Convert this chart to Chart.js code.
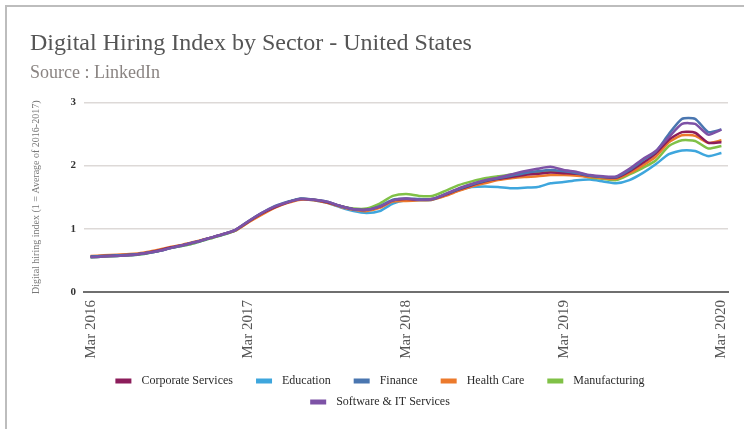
<!DOCTYPE html>
<html>
<head>
<meta charset="utf-8">
<script src="https://cdn.jsdelivr.net/npm/chart.js@4"></script>
<style>
  body { margin: 0; background: #fff; }
  #frame { position: absolute; left: 5px; top: 5px; width: 900px; height: 600px; border-left: 2px solid #bdbdbd; border-top: 2px solid #bdbdbd; }
  #chart { position: absolute; left: 0; top: 0; }
</style>
</head>
<body>
<div id="frame"></div>
<canvas id="chart" width="744" height="429"></canvas>
<script>
// Monthly points, Mar 2016 .. Mar 2020
const months = [
    'Mar 2016', 'Apr 2016', 'May 2016', 'Jun 2016', 'Jul 2016', 'Aug 2016', 'Sep 2016', 'Oct 2016', 'Nov 2016', 'Dec 2016', 'Jan 2017', 'Feb 2017',
    'Mar 2017', 'Apr 2017', 'May 2017', 'Jun 2017', 'Jul 2017', 'Aug 2017', 'Sep 2017', 'Oct 2017', 'Nov 2017', 'Dec 2017', 'Jan 2018', 'Feb 2018',
    'Mar 2018', 'Apr 2018', 'May 2018', 'Jun 2018', 'Jul 2018', 'Aug 2018', 'Sep 2018', 'Oct 2018', 'Nov 2018', 'Dec 2018', 'Jan 2019', 'Feb 2019',
    'Mar 2019', 'Apr 2019', 'May 2019', 'Jun 2019', 'Jul 2019', 'Aug 2019', 'Sep 2019', 'Oct 2019', 'Nov 2019', 'Dec 2019', 'Jan 2020', 'Feb 2020',
    'Mar 2020'
];

const corporateServices = [0.56, 0.57, 0.58, 0.59, 0.61, 0.65, 0.70, 0.74, 0.79, 0.85, 0.91, 0.98,
    1.11, 1.24, 1.34, 1.42, 1.47, 1.46, 1.42, 1.36, 1.31, 1.30, 1.35, 1.45,
    1.47, 1.46, 1.47, 1.54, 1.62, 1.69, 1.75, 1.79, 1.82, 1.85, 1.87, 1.89,
    1.88, 1.87, 1.84, 1.82, 1.81, 1.91, 2.04, 2.19, 2.41, 2.53, 2.52, 2.36, 2.37];
const education = [0.55, 0.56, 0.57, 0.58, 0.60, 0.64, 0.69, 0.73, 0.78, 0.84, 0.90, 0.97,
    1.11, 1.24, 1.34, 1.42, 1.47, 1.45, 1.41, 1.34, 1.28, 1.25, 1.28, 1.40,
    1.45, 1.45, 1.46, 1.53, 1.61, 1.66, 1.67, 1.66, 1.64, 1.65, 1.66, 1.72,
    1.74, 1.77, 1.78, 1.75, 1.72, 1.77, 1.88, 2.02, 2.18, 2.24, 2.23, 2.15, 2.20];
const finance = [0.56, 0.57, 0.58, 0.59, 0.61, 0.64, 0.69, 0.74, 0.79, 0.85, 0.91, 0.98,
    1.12, 1.25, 1.36, 1.43, 1.48, 1.46, 1.43, 1.36, 1.31, 1.30, 1.36, 1.46,
    1.48, 1.47, 1.47, 1.55, 1.63, 1.70, 1.76, 1.80, 1.84, 1.88, 1.91, 1.93,
    1.91, 1.88, 1.84, 1.82, 1.82, 1.93, 2.08, 2.22, 2.50, 2.74, 2.74, 2.53, 2.57];
const healthCare = [0.57, 0.58, 0.59, 0.60, 0.62, 0.66, 0.71, 0.75, 0.80, 0.85, 0.91, 0.97,
    1.10, 1.22, 1.33, 1.41, 1.46, 1.45, 1.41, 1.35, 1.30, 1.28, 1.33, 1.43,
    1.44, 1.45, 1.46, 1.52, 1.60, 1.67, 1.72, 1.77, 1.80, 1.82, 1.83, 1.85,
    1.85, 1.84, 1.82, 1.80, 1.79, 1.88, 2.00, 2.14, 2.37, 2.48, 2.47, 2.36, 2.40];
const manufacturing = [0.55, 0.56, 0.57, 0.58, 0.60, 0.64, 0.69, 0.73, 0.78, 0.84, 0.90, 0.97,
    1.11, 1.24, 1.34, 1.42, 1.47, 1.46, 1.42, 1.36, 1.32, 1.32, 1.40, 1.52,
    1.55, 1.52, 1.52, 1.60, 1.69, 1.75, 1.80, 1.83, 1.86, 1.88, 1.90, 1.91,
    1.89, 1.86, 1.81, 1.79, 1.77, 1.86, 1.96, 2.08, 2.31, 2.40, 2.39, 2.27, 2.31];
const softwareIT = [0.55, 0.56, 0.57, 0.58, 0.61, 0.64, 0.69, 0.74, 0.79, 0.85, 0.91, 0.98,
    1.12, 1.25, 1.35, 1.42, 1.47, 1.46, 1.43, 1.36, 1.31, 1.30, 1.35, 1.45,
    1.48, 1.46, 1.47, 1.55, 1.64, 1.71, 1.77, 1.81, 1.86, 1.91, 1.95, 1.98,
    1.93, 1.90, 1.85, 1.83, 1.83, 1.95, 2.10, 2.23, 2.45, 2.66, 2.66, 2.49, 2.57];

const yTicks = [0, 1, 2, 3];

const serif = "'Liberation Serif', 'Times New Roman', serif";
const axisGrey = '#6f6f6f';

const series = [
    { label: 'Corporate Services', data: corporateServices, color: '#8c1d5b', order: 2 },
    { label: 'Education', data: education, color: '#3ea6dd', order: 5 },
    { label: 'Finance', data: finance, color: '#4a76b0', order: 1 },
    { label: 'Health Care', data: healthCare, color: '#ec7a2c', order: 3 },
    { label: 'Manufacturing', data: manufacturing, color: '#80c147', order: 4 },
    { label: 'Software & IT Services', data: softwareIT, color: '#7d52a6', order: 0 }
];

// legend drawn by hand: two centered rows, wider gaps than the built-in one allows
const legendRows = [[0, 1, 2, 3, 4], [5]];
const sectorLegend = {
    id: 'sectorLegend',
    afterDraw(chart) {
        const ctx = chart.ctx;
        const boxW = 16, boxH = 5, textGap = 10, itemGap = 23;
        const center = chart.width / 2 + 8;
        const firstRowY = chart.chartArea.bottom + 89;
        ctx.save();
        ctx.font = '12px ' + serif;
        ctx.textBaseline = 'middle';
        legendRows.forEach((row, r) => {
            const widths = row.map(i => boxW + textGap + ctx.measureText(chart.data.datasets[i].label).width);
            const total = widths.reduce((a, b) => a + b, 0) + itemGap * (row.length - 1);
            let x = center - total / 2;
            const y = firstRowY + r * 21;
            row.forEach((i, k) => {
                const ds = chart.data.datasets[i];
                ctx.fillStyle = ds.borderColor;
                ctx.fillRect(x, y - boxH / 2, boxW, boxH);
                ctx.fillStyle = '#2b2b2b';
                ctx.fillText(ds.label, x + boxW + textGap, y);
                x += widths[k] + itemGap;
            });
        });
        ctx.restore();
    }
};

new Chart(document.getElementById('chart'), {
    type: 'line',
    data: {
        labels: months,
        datasets: series.map(s => ({
            label: s.label,
            data: s.data,
            borderColor: s.color,
            backgroundColor: s.color,
            borderWidth: 2.5,
            pointRadius: 0,
            tension: 0.2,
            order: s.order
        }))
    },
    options: {
        responsive: false,
        animation: false,
        layout: { padding: { left: 30, right: 16, top: 0, bottom: 64 } },
        plugins: {
            title: {
                display: true,
                text: 'Digital Hiring Index by Sector - United States',
                align: 'start',
                color: '#555',
                font: { family: serif, size: 24, weight: 'normal' },
                padding: { top: 29, bottom: 5 }
            },
            subtitle: {
                display: true,
                text: 'Source : LinkedIn',
                align: 'start',
                color: '#8a8482',
                font: { family: serif, size: 18, weight: 'normal' },
                padding: { top: 0, bottom: 18 }
            },
            legend: { display: false },
            tooltip: { enabled: false }
        },
        scales: {
            x: {
                offset: true,
                grid: { display: false },
                border: { display: true, color: axisGrey, width: 2 },
                ticks: {
                    autoSkip: false,
                    maxRotation: 90,
                    minRotation: 90,
                    padding: 0,
                    color: '#555',
                    font: { family: serif, size: 15 },
                    callback: (v, i) => (i % 12 === 0 ? months[i] : '')
                },
                afterFit: s => { s.height = 73; }
            },
            y: {
                min: 0,
                max: 3,
                afterBuildTicks: s => { s.ticks = yTicks.map(v => ({ value: v })); },
                grid: {
                    drawTicks: false,
                    color: c => (c.tick && c.tick.value === 0 ? axisGrey : '#ddd9d7'),
                    lineWidth: c => (c.tick && c.tick.value === 0 ? 2 : 1.5)
                },
                border: { display: false },
                ticks: {
                    padding: 8,
                    color: '#333',
                    font: { family: serif, size: 11, weight: 'bold' }
                },
                title: {
                    display: true,
                    text: 'Digital hiring index (1 = Average of 2016-2017)',
                    color: '#777',
                    font: { family: serif, size: 10 },
                    padding: 0
                },
                afterFit: s => { s.width = 54; }
            }
        }
    },
    plugins: [sectorLegend]
});
</script>
</body>
</html>
